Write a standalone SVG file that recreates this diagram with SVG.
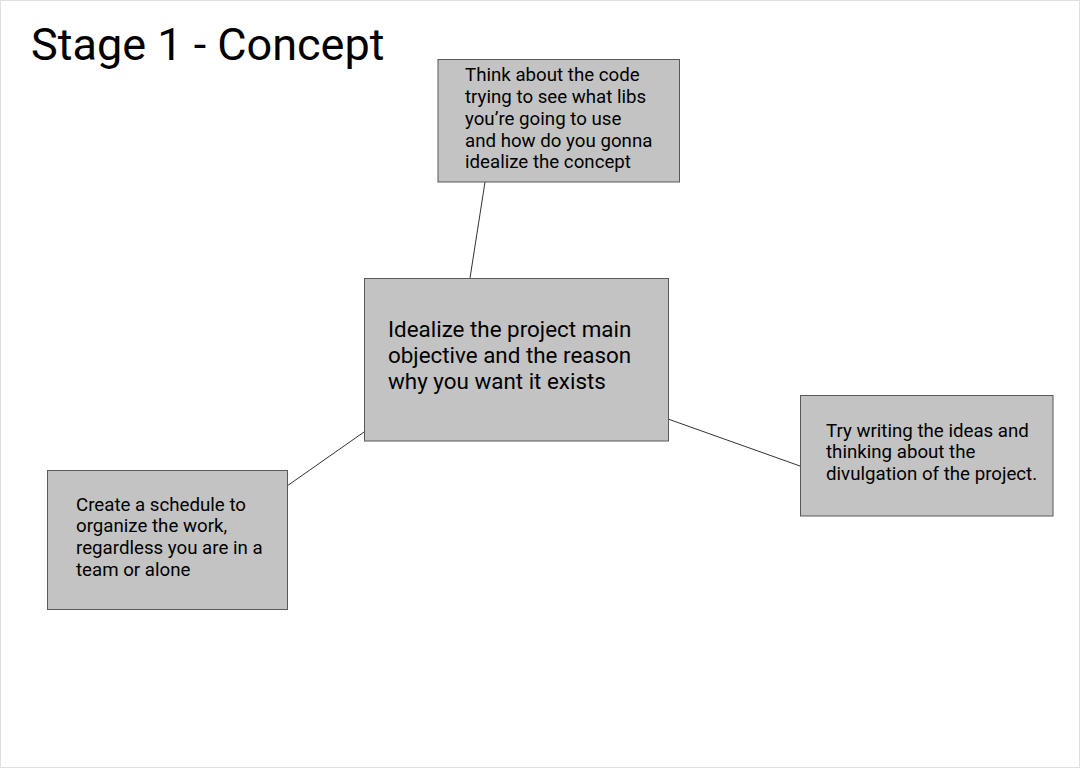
<svg xmlns="http://www.w3.org/2000/svg" width="1081" height="769" viewBox="0 0 1081 769">
<style>
.box{fill:#c3c3c3;stroke:#595959;stroke-width:1}
.t{font-family:Roboto,"Liberation Sans",sans-serif;fill:#000}
.s{font-size:18.7px}
.m{font-size:22.4px}
.c{stroke:#333;stroke-width:1;fill:none}
</style>
<rect x="0.5" y="0.5" width="1079" height="767" fill="#fff" stroke="#e0e0e0"/>
<text class="t" x="31" y="60" font-size="45">Stage 1 - Concept</text>
<g id="connectors">
<line class="c" x1="485" y1="182" x2="470" y2="278"/>
<line class="c" x1="287" y1="486" x2="364" y2="432"/>
<line class="c" x1="668" y1="419" x2="800" y2="466"/>
</g>
<g id="node-top">
<rect class="box" x="438" y="59.5" width="241.5" height="122.5"/>
<text class="t s"><tspan x="465" y="81">Think about the code</tspan><tspan x="465" y="103">trying to see what libs</tspan><tspan x="465" y="125">you’re going to use</tspan><tspan x="465" y="147">and how do you gonna</tspan><tspan x="465" y="168">idealize the concept</tspan></text>
</g>
<g id="node-center">
<rect class="box" x="364.5" y="278.5" width="304" height="162.5"/>
<text class="t m"><tspan x="388" y="337">Idealize the project main</tspan><tspan x="388" y="363">objective and the reason</tspan><tspan x="388" y="389">why you want it exists</tspan></text>
</g>
<g id="node-left">
<rect class="box" x="47.5" y="470.5" width="240" height="139"/>
<text class="t s"><tspan x="76" y="511">Create a schedule to</tspan><tspan x="76" y="532">organize the work,</tspan><tspan x="76" y="554">regardless you are in a</tspan><tspan x="76" y="576">team or alone</tspan></text>
</g>
<g id="node-right">
<rect class="box" x="800.5" y="395.5" width="252.5" height="120.5"/>
<text class="t s"><tspan x="826" y="437">Try writing the ideas and</tspan><tspan x="826" y="458">thinking about the</tspan><tspan x="826" y="480">divulgation of the project.</tspan></text>
</g>
</svg>
